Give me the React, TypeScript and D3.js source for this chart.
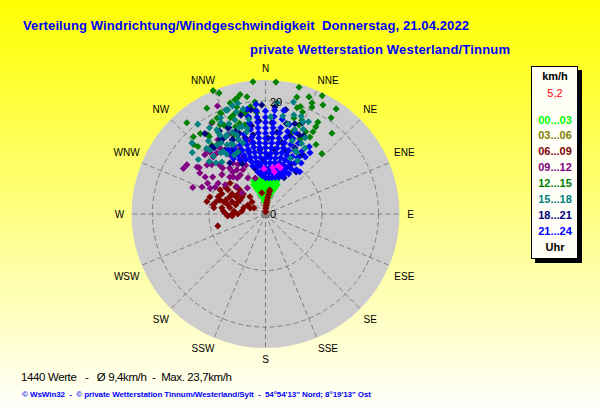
import React, { useRef, useEffect } from 'react';
import * as d3 from 'd3';

const width = 600;
const height = 415;

const compass = ['N', 'NNE', 'NE', 'ENE', 'E', 'ESE', 'SE', 'SSE', 'S', 'SSW', 'SW', 'WSW', 'W', 'WNW', 'NW', 'NNW'];
const legendHours = ['00...03', '03...06', '06...09', '09...12', '12...15', '15...18', '18...21', '21...24'];
const hourColors = ['#00ff00', '#808000', '#800000', '#800080', '#008000', '#008080', '#000080', '#0000ff'];
const ringValues = [10, 20];
const maxSpeed = 23.7;

// [direction in degrees, speed in km/h]
type Pt = [number, number];

const hour00: Pt[] = [
  [0, 2], [-6, 2.4], [6, 2.4], [-10, 3], [0, 3], [10, 3], [-14, 3.6], [-6, 3.6], [5, 3.6], [14, 3.6],
  [-17, 4.2], [-10, 4.2], [-3, 4.2], [3, 4.2], [10, 4.2], [17, 4.2], [-20, 4.9], [-14, 4.9], [-7, 4.9],
  [0, 4.9], [7, 4.9], [14, 4.9], [20, 4.9], [-22, 5.6], [-16, 5.6], [-10, 5.6], [-4, 5.6], [4, 5.6],
  [10, 5.6], [16, 5.6], [22, 5.6], [-20, 6.2], [-13, 6.2], [-6, 6.2], [0, 6.2], [6, 6.2], [13, 6.2], [19, 6.2],
];
const hour03: Pt[] = [[5, 1.2], [3, 1.8], [8, 2.2], [7, 3]];
const hour06: Pt[] = [
  [1, 0.4], [3, 1], [5, 1.5], [6, 2], [7, 2.5], [8, 3], [9, 3.5], [10, 4], [10, 4.3], [-10, 3.8],
  [-49, 8.3], [-56, 8.5], [-47.5, 7.1], [-62, 9.1], [-57, 7.9], [-47, 6.2],
  [-65, 8.5], [-59, 6.9], [-54, 6], [-48, 5.3], [-73, 10.3], [-70, 8.9], [-64, 7],
  [-60, 6], [-54, 5.1], [-42, 4.1], [-73, 8.4], [-70.5, 7.4], [-61, 5.1],
  [-78, 10.6], [-76, 9], [-74, 7.6], [-70, 6.3], [-66, 5.3], [-48, 3.2],
  [-80, 9.4], [-76.5, 6.8], [-73, 5.5], [-63, 3.5],
  [-83, 9.2], [-82, 7.8], [-80, 6.4], [-74, 4], [-69, 2.9], [-62, 2.3],
  [-86, 7.5], [-85, 5.6], [-83, 4.2], [-90, 7], [-90, 5.9], [-90, 4.9],
  [-93, 6.7], [-93.5, 5.9], [-104, 8.7],
];
const hour09: Pt[] = [
  [-61, 16.6], [-58, 16.4], [-70, 13.7], [-55.5, 14.7], [-55, 14.3], [-58, 13.7], [-67, 12.2], [-58.5, 12.5],
  [-62, 11.6], [-65, 10.8], [-55, 11.4], [-57, 10], [-62, 10.1], [-54, 8.8], [-44, 9.1], [-46.5, 7],
  [-35, 5.6], [-48, 5.6], [-26, 7.1], [-32.5, 10.7], [-33, 9.3], [-33, 8.2], [-41, 8.7], [-38, 8.1],
  [-27, 8.8], [-38, 10.3], [-43, 11.1], [-42.6, 13.7], [-42.4, 15.3], [-45.7, 15], [-42, 14.7], [-38.5, 13.8],
  [-34.6, 14.2], [-30.5, 18.7], [-24, 20.9], [-32.7, 15.6], [-25, 10.6], [-12, 13.4], [-16, 6.6],
  [-27, 11.8], [-31, 12.2], [-32, 13.4], [-26, 13.6], [-25, 15.5], [-23, 12.3], [-22, 10.7], [-29, 10],
  [-38, 9.4], [-22, 9.3], [-43, 11.8], [-47.5, 12.9], [-50, 13.5], [-48, 10.4],
];
const hour12: Pt[] = [
  [-5.4, 23.5], [4.5, 23.4], [14.8, 23.2], [-23, 23.7], [-21, 22.9], [25.6, 23.2], [20.4, 22.1], [15, 21.4],
  [27.8, 21.8], [33.9, 22.4], [34.3, 20.6], [39.4, 18.5], [43, 14.6], [-40.8, 21.3], [-29, 21.4], [-9, 21],
  [-12, 21.6], [-5.4, 19.9], [16.6, 19.6], [18, 20], [20, 19.2], [22.7, 21.3], [23.5, 20.6], [30, 16.8],
  [30, 15.7], [30, 17.8], [29.7, 18.7], [20.6, 16.8], [21.2, 17.8], [16.5, 17.7], [31.7, 12.3], [-17.7, 20.6],
  [-13.8, 21.1], [-20.3, 19.6], [-26.8, 19], [-30, 18.8], [-39, 18.3], [-43, 18.7], [-30, 16.8], [-20, 18.1],
  [-11.5, 18.2], [-5.8, 18.5], [-13, 16.2], [-19, 16.3], [-25, 17.3], [-36, 16.9], [-45, 16.9], [-15, 19.6],
  [-24, 19.4], [-8, 19.2], [26, 16.2], [25, 14.6], [18, 15.2], [36, 15.2], [-34, 15],
  [-15, 20.9], [-18, 18.4], [-24, 19.6], [-46, 17.7], [-36, 17.3], [-27, 17.7], [-9.5, 18.7], [-14, 18.4],
  [-5, 18], [-11, 16], [-16, 16.7], [-38, 15.4], [-22, 15],
];
const hour15: Pt[] = [
  [-37, 19.9], [-46, 18.1], [-50, 16.9], [-51, 15.3], [-21, 19.7], [-17, 20], [-14, 20.2], [6, 19.8], [14, 20.4],
  [22, 17.6], [27.5, 15.2], [27, 12.2], [-33, 18.2], [-26, 18], [-22, 17.2], [-16, 18.8], [-12, 19], [-10, 17],
  [-30, 16.6], [-38, 16.4], [-42, 15.6], [-32, 14.8], [-27, 15.4], [-22, 15.6], [-17, 16], [-12, 15.5],
  [-26, 13.8], [-20, 14], [-36, 13.4], [-42, 13.8], [-47, 13.6], [-33, 12.6], [-40, 12], [-24, 12],
  [10, 17.6], [16, 18.2], [20, 18.4], [25, 18], [14, 16.4], [19, 15.8], [24, 16.4], [27, 14], [31, 13.6],
  [20, 13.8], [25, 12.4], [31, 11], [24, 10.8],
  [3, 17.2], [-44, 12.6], [-28, 11.8],
  [-20, 19.6], [-25, 18.8], [-30, 17.2], [-30, 16.1], [-18, 17.5], [-15, 16], [-26, 15.6], [-41, 15],
  [-35, 14.9], [-29, 14], [-20, 14.9], [-13, 14.9], [-34, 13.3], [-25, 13.5], [-17.6, 13.2],
];
const hour18: Pt[] = [
  [-14, 18], [-8, 18.6], [-2, 19.3], [5, 19], [11, 18.8], [-29, 16.8], [-23, 16.6], [-18, 15], [-31, 15.4],
  [-24, 14.4], [-15, 14], [-9, 15.8], [-4, 16.5], [4, 16.2], [-38, 14.8], [-33, 13.4], [-27, 12.8], [-21, 12],
  [-15, 11.5], [-10, 12.7], [-5, 11.4], [2, 13.4], [8, 14.6], [13, 16.4], [18, 16.8], [23, 15.2], [26, 15.4],
  [22, 17.4], [17, 14.5], [13, 13], [8, 11.5], [3, 10.2], [-2, 9.6], [-8, 9], [-13, 8.2], [-25, 9.8],
  [19, 11.6], [24, 12.8], [30, 11.6], [27, 9.9], [21, 9], [15, 8.6], [10, 8.2], [5, 7.4], [-3, 7], [-8, 7.2],
  [27, 7.2], [22, 7.4], [-35, 11], [32, 12.4], [36, 9.2], [16, 12],
  [-23.6, 16.6], [-37, 17.8], [-38.6, 15.2], [-30, 15.2], [-20, 15.5], [-10, 17.3], [-24, 14.3], [-22, 11.9], [-9, 14.2],
];
// direction, then the speeds stacked along that direction
const hour21Dirs = [-30, -25, -20, -15, -10, -5, 0, 5, 10, 15, 20, 25, 30, 35];
const hour21Speeds: number[][] = [
  [11.3, 12.2, 13.1],
  [10.6, 11.5, 12.3, 13.2],
  [10.2, 11, 12, 13, 14],
  [8.8, 9.6, 10.4, 11.2, 11.8, 12.7, 13.5, 14.6],
  [7.5, 8.5, 9.3, 10.2, 11.1, 12, 12.9, 13.8, 15.2, 16.4, 17.5, 18.8],
  [6.8, 7.6, 8.3, 9.1, 10, 10.9, 11.8, 12.6, 13.5, 14.4, 15.3, 16.3, 17.2, 18.3, 19.5],
  [6.4, 7.2, 8.1, 9, 9.9, 10.8, 11.7, 12.5, 13.4, 14.3, 15.2, 16.2, 17.1, 18.2],
  [6.4, 7.3, 8.2, 9.1, 10, 10.8, 11.7, 12.6, 13.5, 14.4, 15.3, 16.2, 17.3, 18.4],
  [6.5, 7.4, 8.3, 9.2, 10, 10.9, 11.8, 12.7, 13.6, 14.6, 15.5, 17, 18.6],
  [6.7, 7.6, 8.5, 9.4, 10.3, 11.2, 12.1, 13, 14, 15.1, 16.4],
  [6.9, 7.7, 8.5, 9.2, 10.1, 11, 12, 13.1, 14.2, 15.4],
  [7.4, 8.2, 9.1, 10.1, 11.2, 12.3, 13.8],
  [8.2, 9.2, 10.4, 11.5, 12.7],
  [9.5, 11, 12.3],
];
const hour21Extra: Pt[] = [[39, 9.6], [36, 13.4], [33, 14.2]];
const current: Pt[] = [[-2, 8], [9, 8.3], [15, 8.8], [18, 8.6], [12, 7.6]];

// where the compass words sit, they do not follow the spokes exactly
const labelAngles = [0, 25, 45, 66, 90, 114, 135, 155, 180, 205, 225, 246, 270, 294, 315, 335];
const labelRadii = [146, 148, 148, 152, 145, 152, 148, 148, 145, 148, 148, 152, 146, 152, 148, 148];

const App: React.FC = () => {
  const ref = useRef<SVGSVGElement | null>(null);

  useEffect(() => {
    const svg = d3.select(ref.current);
    svg.selectAll('*').remove();
    svg.attr('width', width).attr('height', height)
      .style('position', 'absolute').style('left', 0).style('top', 0);

    const cx = 265.5;
    const cy = 214;
    const r = d3.scaleLinear().domain([0, maxSpeed]).range([0, 134]);
    const angle = d3.scaleLinear().domain([0, 360]).range([0, 2 * Math.PI]);
    const polar = (d: Pt) => d3.pointRadial(angle(d[0]), r(d[1]));

    const defs = svg.append('defs');
    const grad = defs.append('linearGradient').attr('id', 'bg').attr('x1', 0).attr('x2', 0).attr('y1', 0).attr('y2', 1);
    grad.append('stop').attr('offset', '0%').attr('stop-color', '#ffff00');
    grad.append('stop').attr('offset', '100%').attr('stop-color', '#ffffff');
    const dots = defs.append('pattern').attr('id', 'dots').attr('width', 4).attr('height', 4)
      .attr('patternUnits', 'userSpaceOnUse');
    dots.append('rect').attr('width', 4).attr('height', 4).attr('fill', '#cccccc');
    dots.append('rect').attr('width', 1).attr('height', 1).attr('fill', '#d4d4d4');

    svg.append('rect').attr('width', width).attr('height', height).attr('fill', 'url(#bg)');

    const plot = svg.append('g').attr('transform', `translate(${cx},${cy})`);
    plot.append('circle').attr('r', r(maxSpeed)).attr('fill', 'url(#dots)');

    const gridStyle = (s: any) => s.attr('fill', 'none').attr('stroke', '#808080').attr('stroke-width', 1).attr('stroke-dasharray', '5 3');
    plot.selectAll('.ring').data(ringValues).join('circle').attr('class', 'ring').attr('r', (d) => r(d)).call(gridStyle);
    plot.selectAll('.spoke').data(compass).join('line').attr('class', 'spoke')
      .attr('x1', 0).attr('y1', 0)
      .attr('x2', (_, i) => d3.pointRadial(angle(i * 22.5), r(maxSpeed))[0])
      .attr('y2', (_, i) => d3.pointRadial(angle(i * 22.5), r(maxSpeed))[1])
      .call(gridStyle);
    plot.append('rect').attr('x', -4).attr('y', -4).attr('width', 8).attr('height', 8).attr('fill', '#808080');

    // compass labels
    plot.selectAll('.dir').data(compass).join('text').attr('class', 'dir')
      .attr('x', (_, i) => d3.pointRadial(angle(labelAngles[i]), labelRadii[i])[0])
      .attr('y', (_, i) => d3.pointRadial(angle(labelAngles[i]), labelRadii[i])[1] + 4)
      .attr('text-anchor', 'middle')
      .attr('font-family', 'Liberation Sans').attr('font-size', 10).attr('fill', '#000')
      .text((d) => d);

    // the measured points
    const hour21: Pt[] = hour21Dirs.flatMap((dir, i) => hour21Speeds[i].map((s): Pt => [dir, s])).concat(hour21Extra);
    const series: [Pt[], string][] = [
      [hour00, hourColors[0]], [hour03, hourColors[1]], [hour06, hourColors[2]], [hour09, hourColors[3]],
      [hour12, hourColors[4]], [hour18, hourColors[6]], [hour21, hourColors[7]], [hour15, hourColors[5]],
      [current, '#ff00ff'],
    ];
    const diamond = d3.symbol().type(d3.symbolSquare).size(25)();
    series.forEach(([pts, color]) => {
      plot.append('g').selectAll('path').data(pts).join('path')
        .attr('d', diamond)
        .attr('fill', color)
        .attr('transform', (d) => `translate(${polar(d)[0]},${polar(d)[1]}) rotate(45)`);
    });

    plot.append('text').attr('x', 4.5).attr('y', 4).attr('font-family', 'Liberation Sans').attr('font-size', 11).text('0');
    plot.append('text').attr('x', 4.5).attr('y', -r(20) + 5).attr('font-family', 'Liberation Sans').attr('font-size', 11).text('20');

    const textAt = (x: number, y: number, t: string, size: number, color: string, weight = 'normal', anchor = 'start') =>
      svg.append('text').attr('x', x).attr('y', y).attr('font-family', 'Liberation Sans').attr('font-size', size)
        .attr('font-weight', weight).attr('fill', color).attr('text-anchor', anchor).text(t).style('white-space', 'pre');

    textAt(23, 30, 'Verteilung Windrichtung/Windgeschwindigkeit  Donnerstag, 21.04.2022', 13, '#0000ff', 'bold').attr('textLength', 446);
    textAt(250, 54, 'private Wetterstation Westerland/Tinnum', 13, '#0000ff', 'bold').attr('textLength', 260);

    // legend box
    svg.append('rect').attr('x', 535).attr('y', 70).attr('width', 47).attr('height', 193).attr('fill', '#000');
    svg.append('rect').attr('x', 531.5).attr('y', 66.5).attr('width', 46).attr('height', 192).attr('fill', '#fffff8').attr('stroke', '#000');
    const lx = 555;
    textAt(lx, 80, 'km/h', 11, '#000', 'bold', 'middle');
    textAt(lx, 96.5, '5,2', 11, '#ff0000', 'normal', 'middle');
    legendHours.forEach((h, i) => {
      textAt(lx, 123.5 + i * 15.9, h, 11, hourColors[i], 'bold', 'middle');
    });
    textAt(lx, 251, 'Uhr', 11, '#000', 'bold', 'middle');

    textAt(21, 381, '1440 Werte   -   Ø 9,4km/h  -  Max. 23,7km/h', 11.5, '#000').attr('textLength', 211);
    textAt(22, 397, '© WsWin32  -  © private Wetterstation Tinnum/Westerland/Sylt  -  54°54\'13\'\' Nord; 8°19\'13\'\' Ost', 8, '#0000ff', 'bold').attr('textLength', 349);
  }, []);

  return <svg ref={ref} />;
};

export default App;
